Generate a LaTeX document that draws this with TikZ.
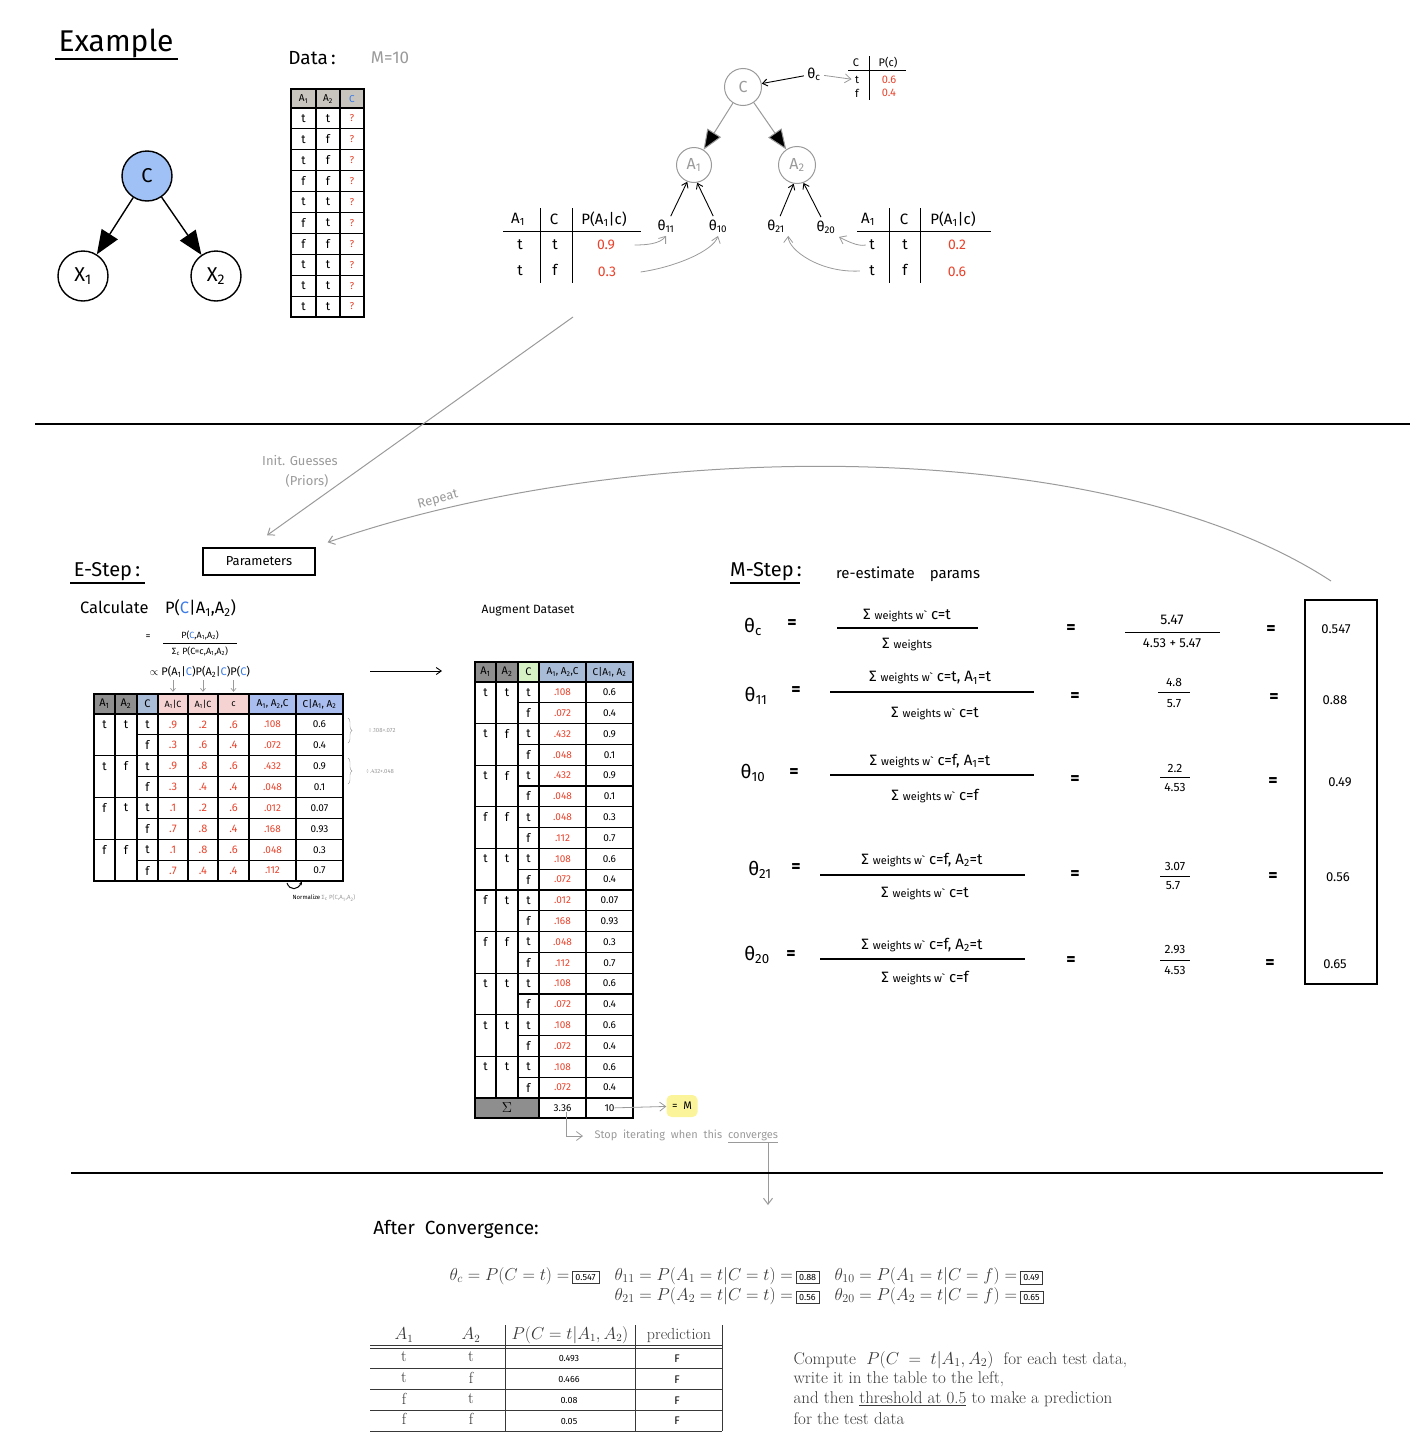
\documentclass[tikz,border=0pt]{standalone}
\usepackage{fontspec}
\usepackage{amsmath}
\newfontfamily\hand{Fira Sans}
\usetikzlibrary{arrows.meta}
\usetikzlibrary{decorations.pathreplacing}

\definecolor{nodeblue}{HTML}{9FC1F5}
\definecolor{hdgray}{HTML}{C8C5BF}
\definecolor{dkgray}{HTML}{8E8E8E}
\definecolor{cblue}{HTML}{A8BCD8}
\definecolor{cgreen}{HTML}{D6F2C4}
\definecolor{pinkh}{HTML}{F5D3D3}
\definecolor{blueh}{HTML}{A9BDEE}
\definecolor{valred}{HTML}{E8432C}
\definecolor{arrgray}{HTML}{9A9A9A}
\definecolor{txtgray}{HTML}{383838}
\definecolor{hilite}{HTML}{FBF49A}
\definecolor{cletter}{HTML}{3B7BE6}

\newcommand{\fsz}[1]{\fontsize{#1}{#1}\selectfont}
\newcommand{\Aone}{A\textsubscript{1}}
\newcommand{\Atwo}{A\textsubscript{2}}
\newcommand{\Cb}{\textcolor{cletter}{C}}
\newcommand{\valbox}[1]{{\setlength{\fboxsep}{3pt}\fbox{\hand\fsz{9}\textcolor{black}{#1}}}}

\tikzset{
  var/.style={circle,draw,line width=1.4pt,minimum size=50pt,inner sep=0pt,font=\hand\fsz{20}},
  gvar/.style={circle,draw=arrgray,line width=1pt,minimum size=37pt,inner sep=0pt,text=arrgray,font=\hand\fsz{16}},
  bigarrow/.style={line width=1.4pt,-{Triangle[length=24pt,width=19pt]}},
  gbigarrow/.style={draw=arrgray,line width=1pt,-{Triangle[length=20pt,width=16pt]}},
  karrow/.style={line width=0.9pt,-{Straight Barb[length=5pt,width=7pt]}},
  garrow/.style={draw=arrgray,line width=1pt,-{Straight Barb[length=6pt,width=9pt]}},
  sgarrow/.style={draw=arrgray,line width=0.7pt,-{Straight Barb[length=3pt,width=5pt]}},
  tline/.style={line width=1.1pt},
  cell/.style={font=\hand\fsz{12},inner sep=0pt},
  scell/.style={font=\hand\fsz{10},inner sep=0pt},
  val/.style={font=\hand\fsz{11},inner sep=0pt,text=valred},
  hdcell/.style={font=\hand\fsz{9},inner sep=0pt,minimum height=20pt},
  gnote/.style={font=\hand\fsz{13},text=arrgray},
  mtxt/.style={font=\hand\fsz{15}},
  meq/.style={font=\hand\bfseries\fsz{18}},
  mnum/.style={font=\hand\fsz{12}},
  serif/.style={font=\fsz{17},text=txtgray}
}

\begin{document}
\begin{tikzpicture}[x=1pt,y=-1pt]
\useasboundingbox (0,0) rectangle (1410,1456);

\begin{scope}
    \node[font=\hand\fsz{30}] (ex) at (116,43) {Example};
    \draw[line width=1.6pt] (55,59) -- (178,59);
    \node[var,fill=nodeblue] (C) at (147,176) {C};
    \node[var] (X1) at (83,276) {X\textsubscript{1}};
    \node[var] (X2) at (216,276) {X\textsubscript{2}};
    \path [bigarrow] (C) edge (X1);
    \path [bigarrow] (C) edge (X2);
\end{scope}

\begin{scope}
    \node[font=\hand\fsz{19}] (data) at (312,58) {Data\,:};
    \node[font=\hand\fsz{17},text=arrgray] (mten) at (390,58) {M=10};
    \fill[hdgray] (291,89) rectangle (364,108);
    \draw[tline] (291,89) rectangle (364,317);
    \foreach \x in {316,340} \draw[tline] (\x,89) -- (\x,317);
    \foreach \k in {0,...,9} \draw[tline] (291,{108+\k*20.9}) -- (364,{108+\k*20.9});
    \node[scell] (dh1) at (303.5,99) {\Aone};
    \node[scell] (dh2) at (328,99) {\Atwo};
    \node[scell] (dh3) at (352,99) {\Cb};
    \foreach \a/\b [count=\i] in {t/t,t/f,t/f,f/f,t/t,f/t,f/f,t/t,t/t,t/t}{
        \node[cell] (da\i) at (303.5,{108+(\i-0.5)*20.9}) {\a};
        \node[cell] (db\i) at (328,{108+(\i-0.5)*20.9}) {\b};
        \node[scell,text=valred] (dc\i) at (352,{108+(\i-0.5)*20.9}) {?};
    }
\end{scope}

\begin{scope}[font=\hand\fsz{14}]
    \node[gvar] (gC) at (743,87) {C};
    \node[gvar,minimum size=35pt] (gA1) at (694,165) {\Aone};
    \node[gvar] (gA2) at (797,165) {\Atwo};
    \path [gbigarrow] (gC) edge (gA1);
    \path [gbigarrow] (gC) edge (gA2);
    \node (thc) at (814,74) {θ\textsubscript{c}};
    \path [karrow] (thc) edge (gC);
    \node[font=\hand\fsz{11}] (pch1) at (856,63) {C};
    \node[font=\hand\fsz{11}] (pch2) at (888,63) {P(c)};
    \draw (848,70) -- (906,70);
    \draw (869,56) -- (869,100);
    \node[font=\hand\fsz{11}] (pct) at (857,80) {t};
    \node[font=\hand\fsz{11},text=valred] (pcv1) at (889,80) {0.6};
    \node[font=\hand\fsz{11}] (pcf) at (857,93) {f};
    \node[font=\hand\fsz{11},text=valred] (pcv2) at (889,93) {0.4};
    \path [garrow,line width=0.8pt] (thc) edge (pct);
    \node (t11) at (666,226) {θ\textsubscript{11}};
    \node (t10) at (718,226) {θ\textsubscript{10}};
    \node (t21) at (776,226) {θ\textsubscript{21}};
    \node (t20) at (826,227) {θ\textsubscript{20}};
    \path [karrow] (t11) edge (gA1.-112);
    \path [karrow] (t10) edge (gA1.-80);
    \path [karrow] (t21) edge (gA2.-100);
    \path [karrow] (t20) edge (gA2.-70);
    % conditional tables
    \node[font=\hand\fsz{15}] (lh1) at (518,219) {\Aone};
    \node[font=\hand\fsz{15}] (lh2) at (554,219) {C};
    \node[font=\hand\fsz{15}] (lh3) at (604,219) {P(\Aone|c)};
    \draw (503,231) -- (641,231);
    \draw (540,208) -- (540,283);
    \draw (572,208) -- (572,283);
    \node[font=\hand\fsz{15}] (la1) at (520,245) {t};
    \node[font=\hand\fsz{15}] (lc1) at (555,245) {t};
    \node[font=\hand\fsz{14},text=valred] (lv1) at (606,245) {0.9};
    \node[font=\hand\fsz{15}] (la2) at (520,271) {t};
    \node[font=\hand\fsz{15}] (lc2) at (555,270) {f};
    \node[font=\hand\fsz{14},text=valred] (lv2) at (607,272) {0.3};
    \draw[garrow,line width=0.8pt] ([xshift=16pt]lv1.east) .. controls +(12,0) and +(-6,8) .. (t11.south);
    \draw[garrow,line width=0.8pt] ([xshift=21pt]lv2.east) .. controls +(35,-5) and +(-5,15) .. (t10.south);
    \node[font=\hand\fsz{15}] (rh1) at (868,219) {\Aone};
    \node[font=\hand\fsz{15}] (rh2) at (904,219) {C};
    \node[font=\hand\fsz{15}] (rh3) at (953,219) {P(\Aone|c)};
    \draw (857,231) -- (991,231);
    \draw (889,208) -- (889,283);
    \draw (920,208) -- (920,283);
    \node[font=\hand\fsz{15}] (ra1) at (872,245) {t};
    \node[font=\hand\fsz{15}] (rc1) at (905,245) {t};
    \node[font=\hand\fsz{14},text=valred] (rv1) at (957,245) {0.2};
    \node[font=\hand\fsz{15}] (ra2) at (872,271) {t};
    \node[font=\hand\fsz{15}] (rc2) at (905,270) {f};
    \node[font=\hand\fsz{14},text=valred] (rv2) at (957,272) {0.6};
    \draw[garrow,line width=0.8pt] (ra1.west) .. controls +(-8,2) and +(6,3) .. (t20.south east);
    \draw[garrow,line width=0.8pt] ([xshift=-6pt]ra2.west) .. controls +(-40,2) and +(0,14) .. (t21.south east);
\end{scope}

\draw[line width=1.3pt] (35,424) -- (1410,424);

\begin{scope}
    \node[draw,line width=1.3pt,minimum width=112pt,minimum height=27pt,font=\hand\fsz{13}] (param) at (259,561.5) {Parameters};
    \coordinate (initfrom) at (573,317);
    \coordinate (repfrom) at (1331,581);
    \draw[garrow] (initfrom) -- ([xshift=8pt,yshift=12pt]param.north);
    \draw[garrow] (repfrom) .. controls (1100,430) and (620,440) .. ([xshift=12pt,yshift=5pt]param.north east);
    \node[gnote] (init) at (300,461) {Init. Guesses};
    \node[gnote] (priors) at (307,481) {(Priors)};
    \node[gnote,rotate=15] (rep) at (438,500) {Repeat};
\end{scope}

\begin{scope}
    \node[font=\hand\fsz{20}] (estep) at (107,572) {E-Step\,:};
    \draw[line width=1.4pt] (70,583) -- (145,583);
    \node[font=\hand\fsz{16.5}] (calc) at (158,608) {Calculate\quad P(\Cb|\Aone,\Atwo)};
    \node[font=\hand\fsz{10}] (feq) at (148,637) {=};
    \node[font=\hand\fsz{9}] (fnum) at (200,635) {P(\Cb,\Aone,\Atwo)};
    \draw[line width=0.8pt] (163,643) -- (237,643);
    \node[font=\hand\fsz{9}] (fden) at (200,651) {Σ\textsubscript{c} P(C=c,\Aone,\Atwo)};
    \node[font=\hand\fsz{11}] (prop) at (200,672) {$\propto$ P(\Aone|\Cb)P(\Atwo|\Cb)P(\Cb)};
    \fill[dkgray] (94,694) rectangle (137,714);
    \fill[cblue] (137,694) rectangle (158,714);
    \fill[pinkh] (158,694) rectangle (249,714);
    \fill[blueh] (249,694) rectangle (343,714);
    \draw[tline] (94,694) rectangle (343,881);
    \foreach \x in {115,137,158,188,218,249,296} \draw[tline] (\x,694) -- (\x,881);
    \foreach \k in {0,2,4,6} \draw[tline] (94,{714+\k*20.875}) -- (343,{714+\k*20.875});
    \foreach \k in {1,3,5,7} \draw[tline] (137,{714+\k*20.875}) -- (343,{714+\k*20.875});
    \node[hdcell,font=\hand\fsz{11}] (eh1) at (104.5,704) {\Aone};
    \node[hdcell,font=\hand\fsz{11}] (eh2) at (126,704) {\Atwo};
    \node[hdcell,font=\hand\fsz{11}] (eh3) at (147.5,704) {C};
    \node[hdcell] (eh4) at (173,704) {\Aone|C};
    \node[hdcell] (eh5) at (203,704) {\Aone|C};
    \node[hdcell] (eh6) at (233.5,704) {c};
    \node[hdcell,font=\hand\fsz{10}] (eh7) at (272.5,704) {\Aone, \Atwo,C};
    \node[hdcell,font=\hand\fsz{10}] (eh8) at (319.5,704) {C|\Aone, \Atwo};
    \foreach \h/\x in {4/173,5/203,6/233.5}{
        \coordinate (dn\h) at (\x,680);
        \draw[sgarrow] (dn\h) -- ([yshift=2pt]eh\h.north);
    }
    \foreach \a/\b [count=\g] in {t/t,t/f,f/t,f/f}{
        \node[cell] (ea\g) at (104.5,{714+(2*\g-1.5)*20.875}) {\a};
        \node[cell] (eb\g) at (126,{714+(2*\g-1.5)*20.875}) {\b};
    }
    \foreach \c/\p/\q/\r/\j/\w [count=\i] in {t/.9/.2/.6/.108/0.6, f/.3/.6/.4/.072/0.4, t/.9/.8/.6/.432/0.9, f/.3/.4/.4/.048/0.1, t/.1/.2/.6/.012/0.07, f/.7/.8/.4/.168/0.93, t/.1/.8/.6/.048/0.3, f/.7/.4/.4/.112/0.7}{
        \node[cell] (ec\i) at (147.5,{714+(\i-0.5)*20.875}) {\c};
        \node[val] (ep\i) at (173,{714+(\i-0.5)*20.875}) {\p};
        \node[val] (eq\i) at (203,{714+(\i-0.5)*20.875}) {\q};
        \node[val] (er\i) at (233.5,{714+(\i-0.5)*20.875}) {\r};
        \node[val,font=\hand\fsz{10}] (ej\i) at (272.5,{714+(\i-0.5)*20.875}) {\j};
        \node[scell] (ew\i) at (319.5,{714+(\i-0.5)*20.875}) {\w};
    }
    \draw[arrgray,decorate,decoration={brace,amplitude=4pt}] (348,718) -- (348,743);
    \draw[arrgray,decorate,decoration={brace,amplitude=4pt}] (348,758) -- (348,784);
    \node[font=\hand\fsz{6},text=arrgray] (div1) at (382,730) {÷\,.108+.072};
    \node[font=\hand\fsz{6},text=arrgray] (div2) at (380,771) {÷\,.432+.048};
    \coordinate (nrmA) at (287,883);
    \coordinate (nrmB) at (302,881);
    \draw[line width=1pt,-{Stealth[length=4pt]}] (nrmA) .. controls (290,891) and (298,890) .. (nrmB);
    \node[font=\hand\fsz{6}] (norm) at (324,898) {Normalize \textcolor{arrgray}{Σ\textsubscript{c} P(C,\Aone,\Atwo)}};
    \coordinate (efrom) at (370,671);
    \coordinate (eto) at (442,671);
    \draw[karrow] (efrom) -- (eto);
\end{scope}

\begin{scope}
    \node[font=\hand\fsz{12}] (aug) at (528,611) {Augment\ Dataset};
    \fill[dkgray] (475,662) rectangle (518,682);
    \fill[cgreen] (518,662) rectangle (539,682);
    \fill[cblue] (539,662) rectangle (633,682);
    \fill[dkgray] (475,1098) rectangle (539,1118);
    \draw[tline] (475,662) rectangle (633,1118);
    \foreach \x in {496,518} \draw[tline] (\x,662) -- (\x,1098);
    \foreach \x in {539,586} \draw[tline] (\x,662) -- (\x,1118);
    \foreach \k in {0,2,...,20} \draw[tline] (475,{682+\k*20.8}) -- (633,{682+\k*20.8});
    \foreach \k in {1,3,...,19} \draw[tline] (518,{682+\k*20.8}) -- (633,{682+\k*20.8});
    \node[hdcell,font=\hand\fsz{11}] (ah1) at (485.5,672) {\Aone};
    \node[hdcell,font=\hand\fsz{11}] (ah2) at (507,672) {\Atwo};
    \node[hdcell,font=\hand\fsz{11}] (ah3) at (528.5,672) {C};
    \node[hdcell,font=\hand\fsz{10}] (ah4) at (562.5,672) {\Aone, \Atwo,C};
    \node[hdcell,font=\hand\fsz{10}] (ah5) at (609.5,672) {C|\Aone, \Atwo};
    \foreach \a/\b/\ja/\wa/\jb/\wb [count=\g] in {t/t/.108/0.6/.072/0.4, t/f/.432/0.9/.048/0.1, t/f/.432/0.9/.048/0.1, f/f/.048/0.3/.112/0.7, t/t/.108/0.6/.072/0.4, f/t/.012/0.07/.168/0.93, f/f/.048/0.3/.112/0.7, t/t/.108/0.6/.072/0.4, t/t/.108/0.6/.072/0.4, t/t/.108/0.6/.072/0.4}{
        \pgfmathsetmacro\rowa{682+(2*\g-1.5)*20.8}
        \pgfmathsetmacro\rowb{682+(2*\g-0.5)*20.8}
        \node[cell] (ga\g) at (485.5,\rowa) {\a};
        \node[cell] (gb\g) at (507,\rowa) {\b};
        \node[cell] (gct\g) at (528.5,\rowa) {t};
        \node[cell] (gcf\g) at (528.5,\rowb) {f};
        \node[val,font=\hand\fsz{10}] (gja\g) at (562.5,\rowa) {\ja};
        \node[val,font=\hand\fsz{10}] (gjb\g) at (562.5,\rowb) {\jb};
        \node[scell] (gwa\g) at (609.5,\rowa) {\wa};
        \node[scell] (gwb\g) at (609.5,\rowb) {\wb};
    }
    \node[font=\fsz{14}] (sig) at (507,1108) {$\Sigma$};
    \node[scell] (sum1) at (562.5,1108) {3.36};
    \node[scell] (sum2) at (609.5,1108) {10};
    \node[fill=hilite,rounded corners=5pt,minimum width=31pt,minimum height=22pt,font=\hand\fsz{11}] (eqM) at (682,1106) {=\ \ M};
    \path [garrow,line width=0.8pt] (sum2) edge (eqM);
    \node[font=\hand\fsz{11},text=arrgray,anchor=west] (stop) at (591,1136) {Stop\ \ iterating\ \ when\ \ this\ \ \underline{converges}};
    \draw[garrow,line width=0.8pt] ([xshift=4pt]sum1.south) |- ([xshift=-8pt]stop.west);
    \coordinate (convfrom) at (768,1143);
    \coordinate (convto) at (768,1205);
    \draw[garrow] (convfrom) -- (convto);
\end{scope}

\draw[line width=1.3pt] (71,1173) -- (1383,1173);

\begin{scope}
    \node[font=\hand\fsz{20}] (mstep) at (766,572) {M-Step\,:};
    \draw[line width=1.4pt] (730,583) -- (800,583);
    \node[mtxt] (reest) at (908,574) {re-estimate\quad params};
    \draw[line width=1.4pt] (1305,600) rectangle (1377,984);
    % theta c
    \node[font=\hand\fsz{19}] (mthc) at (753,627) {θ\textsubscript{c}};
    \node[meq] (meqa1) at (792,624) {=};
    \node[mtxt] (mnum1) at (907,615) {Σ {\fsz{11}weights w`} c=t};
    \draw[line width=1.1pt] (837,628) -- (978,628);
    \node[mtxt] (mden1) at (907,644) {Σ {\fsz{11}weights}};
    \node[meq] (meqb1) at (1071,629) {=};
    \node[font=\hand\fsz{14}] (mn1) at (1172,620) {5.47};
    \draw[line width=1pt] (1125,632) -- (1220,632);
    \node[font=\hand\fsz{13}] (md1) at (1172,643) {4.53 + 5.47};
    \node[meq] (meqc1) at (1271,630) {=};
    \node[font=\hand\fsz{13}] (mv1) at (1336,629) {0.547};
    % theta 11
    \node[font=\hand\fsz{19}] (mth11) at (756,696) {θ\textsubscript{11}};
    \node[meq] (meqa2) at (796,691) {=};
    \node[mtxt] (mnum2) at (930,678) {Σ {\fsz{11}weights w`} c=t, \Aone=t};
    \draw[line width=1.1pt] (830,692) -- (1034,692);
    \node[mtxt] (mden2) at (935,713) {Σ {\fsz{11}weights w`} c=t};
    \node[meq] (meqb2) at (1075,697) {=};
    \node[mnum] (mn2) at (1174,682) {4.8};
    \draw[line width=1pt] (1158,692) -- (1190,692);
    \node[mnum] (md2) at (1174,704) {5.7};
    \node[meq] (meqc2) at (1274,698) {=};
    \node[font=\hand\fsz{13}] (mv2) at (1335,700) {0.88};
    % theta 10
    \node[font=\hand\fsz{19}] (mth10) at (753,773) {θ\textsubscript{10}};
    \node[meq] (meqa3) at (794,773) {=};
    \node[mtxt] (mnum3) at (930,761) {Σ {\fsz{11}weights w`} c=f, \Aone=t};
    \draw[line width=1.1pt] (830,775) -- (1034,775);
    \node[mtxt] (mden3) at (935,796) {Σ {\fsz{11}weights w`} c=f};
    \node[meq] (meqb3) at (1075,780) {=};
    \node[mnum] (mn3) at (1175,768) {2.2};
    \draw[line width=1pt] (1160,777) -- (1190,777);
    \node[mnum] (md3) at (1175,787) {4.53};
    \node[meq] (meqc3) at (1273,782) {=};
    \node[font=\hand\fsz{13}] (mv3) at (1340,782) {0.49};
    % theta 21
    \node[font=\hand\fsz{19}] (mth21) at (760,870) {θ\textsubscript{21}};
    \node[meq] (meqa4) at (796,868) {=};
    \node[mtxt] (mnum4) at (922,860) {Σ {\fsz{11}weights w`} c=f, \Atwo=t};
    \draw[line width=1.1pt] (820,875) -- (1025,875);
    \node[mtxt] (mden4) at (925,893) {Σ {\fsz{11}weights w`} c=t};
    \node[meq] (meqb4) at (1075,875) {=};
    \node[mnum] (mn4) at (1175,866) {3.07};
    \draw[line width=1pt] (1160,876) -- (1190,876);
    \node[mnum] (md4) at (1173,886) {5.7};
    \node[meq] (meqc4) at (1273,877) {=};
    \node[font=\hand\fsz{13}] (mv4) at (1338,877) {0.56};
    % theta 20
    \node[font=\hand\fsz{19}] (mth20) at (757,955) {θ\textsubscript{20}};
    \node[meq] (meqa5) at (791,955) {=};
    \node[mtxt] (mnum5) at (922,945) {Σ {\fsz{11}weights w`} c=f, \Atwo=t};
    \draw[line width=1.1pt] (820,959) -- (1025,959);
    \node[mtxt] (mden5) at (925,978) {Σ {\fsz{11}weights w`} c=f};
    \node[meq] (meqb5) at (1071,961) {=};
    \node[mnum] (mn5) at (1175,950) {2.93};
    \draw[line width=1pt] (1160,960) -- (1190,960);
    \node[mnum] (md5) at (1175,970) {4.53};
    \node[meq] (meqc5) at (1270,964) {=};
    \node[font=\hand\fsz{13}] (mv5) at (1335,964) {0.65};
\end{scope}

\begin{scope}
    \node[font=\hand\fsz{19}] (after) at (456,1229) {After\ \ Convergence:};
    \node[serif,anchor=west] (pthc) at (446,1276) {$\theta_c=P(C=t)=$\,\valbox{0.547}};
    \node[serif,anchor=west] (pth11) at (611,1276) {$\theta_{11}=P(A_1=t|C=t)=$\,\valbox{0.88}};
    \node[serif,anchor=west] (pth10) at (831,1276) {$\theta_{10}=P(A_1=t|C=f)=$\,\valbox{0.49}};
    \node[serif,anchor=west] (pth21) at (611,1296) {$\theta_{21}=P(A_2=t|C=t)=$\,\valbox{0.56}};
    \node[serif,anchor=west] (pth20) at (831,1296) {$\theta_{20}=P(A_2=t|C=f)=$\,\valbox{0.65}};
    % test table
    \draw[txtgray,line width=0.8pt] (370,1345) -- (722,1345);
    \draw[txtgray,line width=0.8pt] (370,1348) -- (722,1348);
    \foreach \y in {1368,1389,1410,1431} \draw[txtgray,line width=0.8pt] (370,\y) -- (722,\y);
    \foreach \x in {505,635,722} \draw[txtgray,line width=0.8pt] (\x,1325) -- (\x,1431);
    \node[serif,font=\fsz{16}] (th1) at (404,1335) {$A_1$};
    \node[serif,font=\fsz{16}] (th2) at (471,1335) {$A_2$};
    \node[serif,font=\fsz{16}] (th3) at (570,1335) {$P(C=t|A_1,A_2)$};
    \node[serif,font=\fsz{16}] (th4) at (679,1335) {prediction};
    \foreach \a/\b/\p [count=\i] in {t/t/0.493,t/f/0.466,f/t/0.08,f/f/0.05}{
        \node[serif,font=\fsz{16}] (ta\i) at (404,{1357+(\i-1)*20.7}) {\a};
        \node[serif,font=\fsz{16}] (tb\i) at (471,{1357+(\i-1)*20.7}) {\b};
        \node[font=\hand\fsz{9}] (tp\i) at (569,{1359+(\i-1)*20.7}) {\p};
        \node[font=\hand\fsz{11}] (tf\i) at (677,{1359+(\i-1)*20.7}) {F};
    }
    \node[serif,anchor=west] (txt1) at (790,1360) {Compute \ $P(C\;=\;t|A_1,A_2)$ \ for each test data,};
    \node[serif,anchor=west] (txt2) at (790,1379) {write it in the table to the left,};
    \node[serif,anchor=west] (txt3) at (790,1399) {and then \underline{threshold at 0.5} to make a prediction};
    \node[serif,anchor=west] (txt4) at (790,1419) {for the test data};
\end{scope}
\end{tikzpicture}
\end{document}
